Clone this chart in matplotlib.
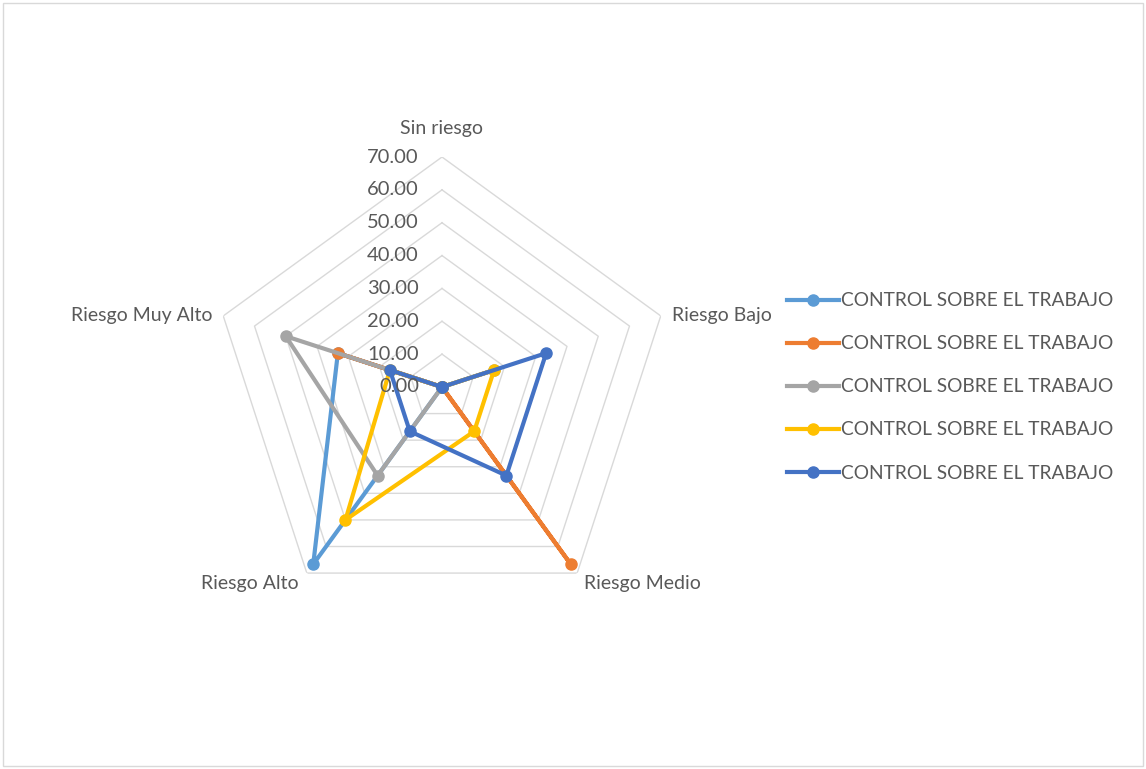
import numpy as np
import matplotlib.pyplot as plt
from matplotlib.patches import Rectangle

plt.rcParams['font.family'] = ['Lato', 'DejaVu Sans']

categories = ['Sin riesgo', 'Riesgo Bajo', 'Riesgo Medio', 'Riesgo Alto', 'Riesgo Muy Alto']
series_names = ['CONTROL SOBRE EL TRABAJO'] * 5
series_values = [
    [0.00, 0.00, 0.00, 66.67, 33.33],
    [0.00, 0.00, 66.67, 0.00, 33.33],
    [0.00, 16.67, 0.00, 33.33, 50.00],
    [0.00, 16.67, 16.67, 50.00, 16.67],
    [0.00, 33.33, 33.33, 16.67, 16.67],
]
colors = ['#5B9BD5', '#ED7D31', '#A5A5A5', '#FFC000', '#4472C4']
ticks = [0, 10, 20, 30, 40, 50, 60, 70]

W, H = 1146, 769
fig = plt.figure(figsize=(W / 100, H / 100), dpi=100)

# chart area border
fig.patches.append(Rectangle((3 / W, 3 / H), 1 - 6 / W, 1 - 6 / H, transform=fig.transFigure,
                             fill=False, edgecolor='#D9D9D9', linewidth=1))

cx, cy, R = 442, 387, 230
ax = fig.add_axes([(cx - R) / W, (H - cy - R) / H, 2 * R / W, 2 * R / H], projection='polar')
ax.set_theta_offset(np.pi / 2)
ax.set_theta_direction(-1)
ax.set_ylim(0, 70)
ax.axis('off')

n = len(categories)
angles = np.linspace(0, 2 * np.pi, n, endpoint=False)
closed = np.append(angles, angles[0])

# pentagon gridlines
for t in ticks[1:]:
    ax.plot(closed, [t] * (n + 1), color='#D9D9D9', linewidth=1, zorder=1)

# value labels along the top axis
for t in ticks:
    ax.annotate(f'{t:.2f}', xy=(0, t), xytext=(-23, 0), textcoords='offset pixels',
                ha='right', va='center', fontsize=14.5, color='#595959', zorder=10)

# category labels
offsets = [(0, 29, 'center'), (11, 0, 'left'), (7, -10, 'left'), (-8, -10, 'right'), (-11, 0, 'right')]
for ang, cat, (dx, dy, ha) in zip(angles, categories, offsets):
    ax.annotate(cat, xy=(ang, 70), xytext=(dx, dy), textcoords='offset pixels',
                ha=ha, va='center', fontsize=14, color='#595959', annotation_clip=False)

for name, vals, col in zip(series_names, series_values, colors):
    ax.plot(closed, vals + vals[:1], color=col, linewidth=3, marker='o', markersize=8,
            label=name, zorder=3, clip_on=False)

leg = fig.legend(loc='upper left', bbox_to_anchor=(770 / W, 1 - 275 / H), frameon=False,
                 fontsize=13.8, labelcolor='#595959', handlelength=2.7, handletextpad=0.1,
                 labelspacing=1.36)

fig.savefig('out.png', dpi=100)
